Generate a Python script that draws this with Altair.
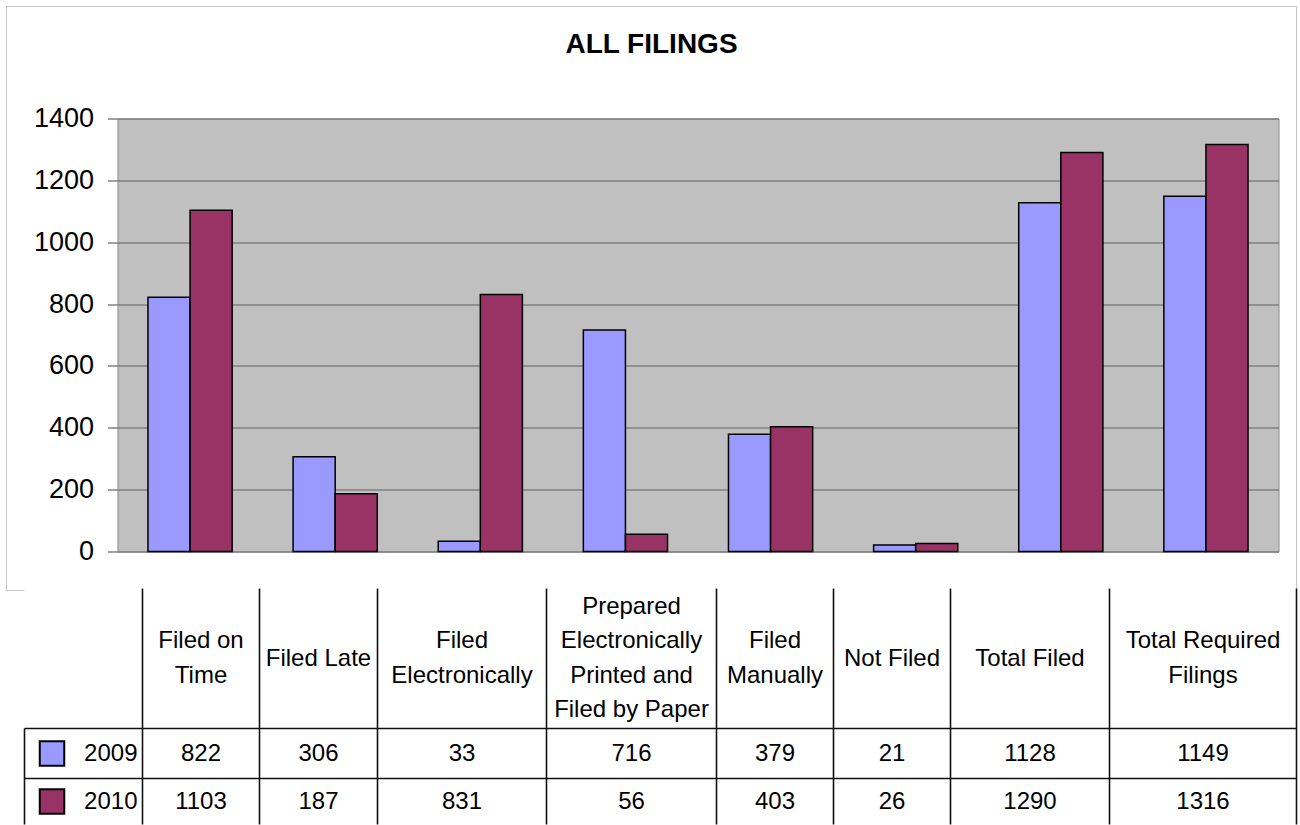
import altair as alt
import pandas as pd

# ---------------- data ----------------
title_text = "ALL FILINGS"
categories = [
    "Filed on Time",
    "Filed Late",
    "Filed Electronically",
    "Prepared Electronically Printed and Filed by Paper",
    "Filed Manually",
    "Not Filed",
    "Total Filed",
    "Total Required Filings",
]
header_labels = [
    "Filed on\nTime",
    "Filed Late",
    "Filed\nElectronically",
    "Prepared\nElectronically\nPrinted and\nFiled by Paper",
    "Filed\nManually",
    "Not Filed",
    "Total Filed",
    "Total Required\nFilings",
]
years = ["2009", "2010"]
values_2009 = [822, 306, 33, 716, 379, 21, 1128, 1149]
values_2010 = [1103, 187, 831, 56, 403, 26, 1290, 1316]
y_ticks = [0, 200, 400, 600, 800, 1000, 1200, 1400]

# ---------------- style / layout ----------------
BLUE = "#9999FF"
RED = "#993366"
FONT = "Liberation Sans"
PLOT_LEFT, PLOT_TOP, PLOT_W, PLOT_H = 117, 118, 1161, 433
FRAME_L, FRAME_T, FRAME_R, FRAME_B = 6, 6, 1296, 590
TABLE_TOP, TABLE_BOTTOM = 588, 824
TABLE_LEFT = 24
LABEL_COL_RIGHT = 142
COL_WIDTHS = [117, 118, 169, 170, 117, 117, 159, 187]
HEADER_BOTTOM = 728
ROW_LINES = [728, 778]
LINE_COLOR = "#111111"
LINE_HEIGHT = 34.5

# ---------------- bar chart ----------------
bar_df = pd.DataFrame({
    "category": categories * 2,
    "year": [years[0]] * len(categories) + [years[1]] * len(categories),
    "value": values_2009 + values_2010,
})

color_scale = alt.Scale(domain=years, range=[BLUE, RED])

bars = alt.Chart(bar_df).mark_bar(stroke="black", strokeWidth=1.5).encode(
    x=alt.X("category:N", sort=categories, axis=None,
            scale=alt.Scale(paddingInner=0.42, paddingOuter=0.21)),
    xOffset=alt.XOffset("year:N", sort=years),
    y=alt.Y("value:Q",
            scale=alt.Scale(domain=[0, 1400], nice=False, zero=True),
            axis=alt.Axis(values=y_ticks, title=None, grid=True, format="d",
                          gridColor="#808080", gridWidth=1.5,
                          domain=False, ticks=True, tickSize=10,
                          tickColor="#808080", tickWidth=1.5,
                          labelFont=FONT, labelFontSize=27, labelColor="black",
                          labelPadding=14, labelFlush=False)),
    color=alt.Color("year:N", scale=color_scale, legend=None),
).properties(
    width=PLOT_W, height=PLOT_H,
    view=alt.ViewBackground(fill="#C0C0C0", stroke="#8A8A8A", strokeWidth=1),
)

# ---------------- table (canvas-pixel scales) ----------------
XS = alt.Scale(domain=[PLOT_LEFT, PLOT_LEFT + PLOT_W], nice=False, zero=False)
YS = alt.Scale(domain=[TABLE_TOP, TABLE_BOTTOM], reverse=True, nice=False, zero=False)

edges = [LABEL_COL_RIGHT]
for w in COL_WIDTHS:
    edges.append(edges[-1] + w)
centers = [(a + b) / 2 for a, b in zip(edges[:-1], edges[1:])]
row_centers = [(ROW_LINES[0] + ROW_LINES[1]) / 2, (ROW_LINES[1] + TABLE_BOTTOM) / 2]
table_right = edges[-1]

frame_df = pd.DataFrame({"x": [FRAME_L], "x2": [FRAME_R], "y": [FRAME_T], "y2": [FRAME_B]})
frame = alt.Chart(frame_df).mark_rect(fillOpacity=0, stroke="#C4C4C4", strokeWidth=1).encode(
    x=alt.X("x:Q", scale=XS, axis=None), x2="x2:Q",
    y=alt.Y("y:Q", scale=YS, axis=None), y2="y2:Q",
)

cover_df = pd.DataFrame({"x": [TABLE_LEFT], "x2": [table_right], "y": [TABLE_TOP], "y2": [TABLE_BOTTOM]})
cover = alt.Chart(cover_df).mark_rect(fill="white", strokeWidth=0).encode(
    x=alt.X("x:Q", scale=XS, axis=None), x2="x2:Q",
    y=alt.Y("y:Q", scale=YS, axis=None), y2="y2:Q",
)

line_rows = []
for e in edges:
    line_rows.append({"x": e, "x2": e, "y": TABLE_TOP, "y2": TABLE_BOTTOM})
line_rows.append({"x": TABLE_LEFT, "x2": TABLE_LEFT, "y": HEADER_BOTTOM, "y2": TABLE_BOTTOM})
for yl in ROW_LINES:
    line_rows.append({"x": TABLE_LEFT, "x2": table_right, "y": yl, "y2": yl})
lines_df = pd.DataFrame(line_rows)
lines = alt.Chart(lines_df).mark_rule(color=LINE_COLOR, strokeWidth=1.6).encode(
    x=alt.X("x:Q", scale=XS, axis=None), x2="x2:Q",
    y=alt.Y("y:Q", scale=YS, axis=None), y2="y2:Q",
)

# multi-line header text: first line positioned so the block is centred in the header row
header_mid = (TABLE_TOP + HEADER_BOTTOM) / 2
header_df = pd.DataFrame({
    "x": centers,
    "y": [header_mid - (lbl.count("\n")) * LINE_HEIGHT / 2 for lbl in header_labels],
    "text": header_labels,
})
headers = alt.Chart(header_df).mark_text(
    font=FONT, fontSize=24, color="black", lineBreak="\n", lineHeight=LINE_HEIGHT,
    align="center", baseline="middle",
).encode(
    x=alt.X("x:Q", scale=XS, axis=None),
    y=alt.Y("y:Q", scale=YS, axis=None),
    text="text:N",
)

num_rows = []
for yr, vals, yc in zip(years, [values_2009, values_2010], row_centers):
    for cx, v in zip(centers, vals):
        num_rows.append({"x": cx, "y": yc, "text": str(v)})
numbers = alt.Chart(pd.DataFrame(num_rows)).mark_text(
    font=FONT, fontSize=24, color="black", align="center", baseline="middle",
).encode(
    x=alt.X("x:Q", scale=XS, axis=None),
    y=alt.Y("y:Q", scale=YS, axis=None),
    text="text:N",
)

label_df = pd.DataFrame({"x": [LABEL_COL_RIGHT - 5] * 2, "y": row_centers, "text": years})
row_labels = alt.Chart(label_df).mark_text(
    font=FONT, fontSize=24, color="black", align="right", baseline="middle",
).encode(
    x=alt.X("x:Q", scale=XS, axis=None),
    y=alt.Y("y:Q", scale=YS, axis=None),
    text="text:N",
)

sq_df = pd.DataFrame({"x": [TABLE_LEFT + 27.5] * 2, "y": row_centers, "year": years})
squares = alt.Chart(sq_df).mark_square(
    size=600, filled=True, opacity=1, stroke="black", strokeWidth=2,
).encode(
    x=alt.X("x:Q", scale=XS, axis=None),
    y=alt.Y("y:Q", scale=YS, axis=None),
    color=alt.Color("year:N", scale=color_scale, legend=None),
)

title_df = pd.DataFrame({"x": [(FRAME_L + FRAME_R) / 2], "y": [44], "text": [title_text]})
title = alt.Chart(title_df).mark_text(
    font=FONT, fontSize=28, fontWeight="bold", color="black",
    align="center", baseline="middle",
).encode(
    x=alt.X("x:Q", scale=XS, axis=None),
    y=alt.Y("y:Q", scale=YS, axis=None),
    text="text:N",
)

table = alt.layer(frame, cover, lines, headers, numbers, row_labels, squares, title).properties(
    width=PLOT_W, height=TABLE_BOTTOM - TABLE_TOP,
    view=alt.ViewBackground(strokeWidth=0),
)

chart = alt.vconcat(
    bars, table,
    spacing=TABLE_TOP - (PLOT_TOP + PLOT_H),
    bounds="flush",
    padding={"left": 5.5, "top": 5.5, "right": 2, "bottom": 0},
    background="white",
)

chart.save("out.html", embed_options={"renderer": "svg", "actions": False})
